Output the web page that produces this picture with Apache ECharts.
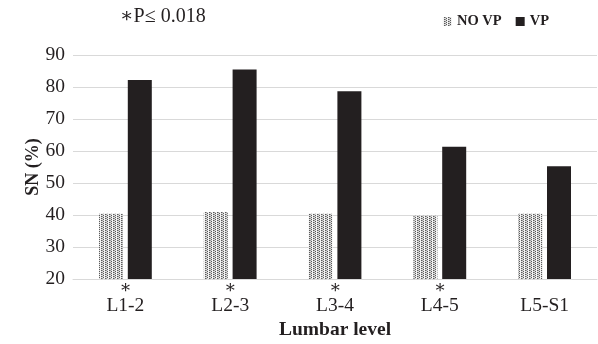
<!DOCTYPE html>
<html>
<head>
<meta charset="utf-8">
<script src="https://cdn.jsdelivr.net/npm/echarts@6/dist/echarts.min.js"></script>
<style>html,body{margin:0;padding:0;background:#fff;}#c{width:598px;height:344px;}</style>
</head>
<body>
<div id="c"></div>
<script>
var categories = ['L1-2', 'L2-3', 'L3-4', 'L4-5', 'L5-S1'];
var noVP = [40.4, 40.9, 40.4, 39.8, 40.4];
var vp = [82.2, 85.5, 78.7, 61.3, 55.2];
var significant = [true, true, true, true, false];
var yTicks = [20, 30, 40, 50, 60, 70, 80, 90];

var serif = '"Liberation Serif", "DejaVu Serif", serif';

function makePattern() {
  var c = document.createElement('canvas');
  c.width = 4; c.height = 4;
  var ctx = c.getContext('2d');
  ctx.fillStyle = '#dcdcdc';
  ctx.fillRect(0, 0, 4, 4);
  ctx.fillStyle = '#f4f4f4';
  ctx.fillRect(0, 0, 1, 4);
  ctx.fillStyle = '#5a5a5a';
  ctx.fillRect(1, 0, 1, 1);
  ctx.fillRect(3, 1, 1, 1);
  ctx.fillRect(1, 2, 1, 1);
  ctx.fillRect(3, 3, 1, 1);
  ctx.fillStyle = '#9a9a9a';
  ctx.fillRect(2, 0, 1, 1);
  ctx.fillRect(2, 2, 1, 1);
  return c;
}
var pattern = { image: makePattern(), repeat: 'repeat' };

var chart = echarts.init(document.getElementById('c'));
chart.setOption({
  animation: false,
  backgroundColor: '#fff',
  title: {
    text: '\u2217P\u2264 0.018',
    left: 115, top: 2,
    textStyle: { fontFamily: serif, fontSize: 20, fontWeight: 'normal', color: '#231f20' }
  },
  legend: {
    right: 44, top: 9,
    itemWidth: 9, itemHeight: 9, itemGap: 14,
    textStyle: { fontFamily: serif, fontSize: 14.5, fontWeight: 'bold', color: '#231f20' },
    data: [
      { name: 'NO VP', icon: 'rect', itemStyle: { color: pattern } },
      { name: 'VP', icon: 'rect' }
    ]
  },
  grid: { left: 73, right: 1, top: 55, bottom: 65, containLabel: false, outerBoundsMode: 'none' },
  xAxis: {
    type: 'category',
    data: categories,
    axisLine: { show: true, lineStyle: { color: '#d9d9d9' } },
    axisTick: { show: false },
    axisLabel: {
      margin: 1,
      interval: 0,
      formatter: function (v, i) {
        return '{s|' + (significant[i] ? '\u2217' : ' ') + '}\n{l|' + v + '}';
      },
      rich: {
        s: { fontFamily: serif, fontSize: 18, lineHeight: 16, color: '#231f20' },
        l: { fontFamily: serif, fontSize: 19.5, lineHeight: 20, color: '#231f20' }
      }
    },
    name: 'Lumbar level',
    nameLocation: 'middle',
    nameGap: 41,
    nameMoveOverlap: false,
    nameTextStyle: { fontFamily: serif, fontSize: 19.5, fontWeight: 'bold', color: '#231f20' }
  },
  yAxis: {
    type: 'value',
    min: yTicks[0], max: yTicks[yTicks.length - 1], interval: 10,
    axisLine: { show: false },
    axisTick: { show: false },
    splitLine: { lineStyle: { color: '#d9d9d9' } },
    axisLabel: { margin: 8, fontFamily: serif, fontSize: 19.5, color: '#231f20' },
    name: 'SN (%)',
    nameLocation: 'middle',
    nameGap: 31,
    nameMoveOverlap: false,
    nameTextStyle: { fontFamily: serif, fontSize: 18, fontWeight: 'bold', color: '#231f20' }
  },
  series: [
    {
      name: 'NO VP', type: 'bar', data: noVP,
      barWidth: 24, barGap: '20%',
      itemStyle: { color: pattern }
    },
    {
      name: 'VP', type: 'bar', data: vp,
      barWidth: 24,
      itemStyle: { color: '#231f20' }
    }
  ]
});
</script>
</body>
</html>
